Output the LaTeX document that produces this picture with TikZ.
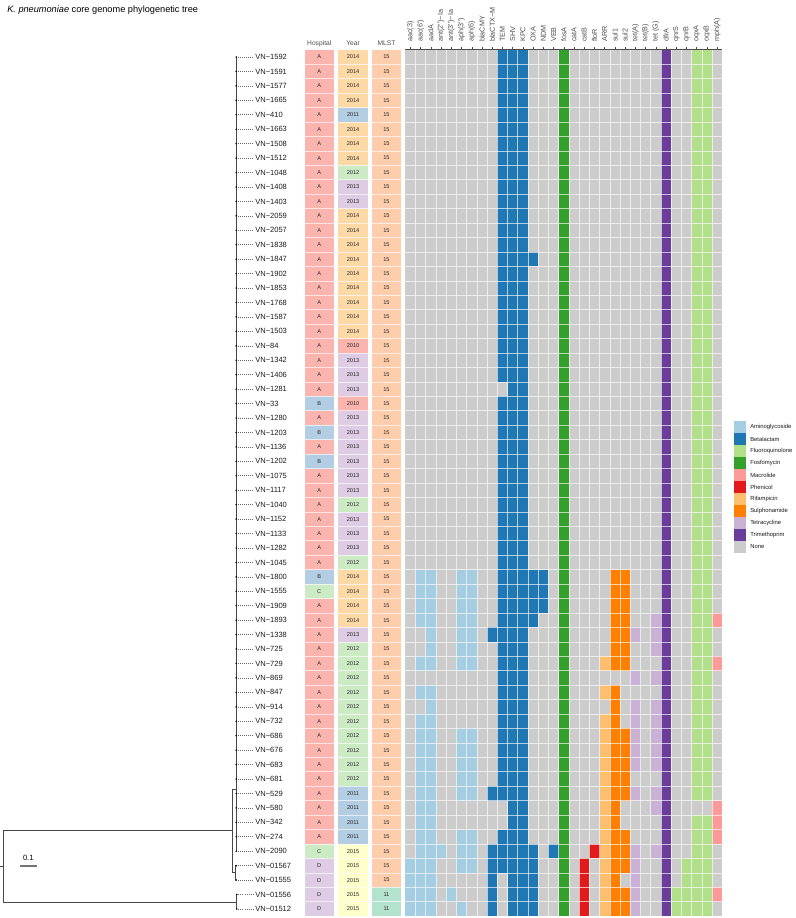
\documentclass[tikz,border=0pt]{standalone}
\usepackage{fontspec}
\setmainfont{Liberation Sans}
\newfontfamily\labfont{Liberation Sans}
% Paired palette (resistance classes)
\definecolor{amino}{HTML}{A6CEE3}
\definecolor{beta}{HTML}{1F78B4}
\definecolor{fluoro}{HTML}{B2DF8A}
\definecolor{fosfo}{HTML}{33A02C}
\definecolor{macro}{HTML}{FB9A99}
\definecolor{phen}{HTML}{E31A1C}
\definecolor{rif}{HTML}{FDBF6F}
\definecolor{sulph}{HTML}{FF7F00}
\definecolor{tetra}{HTML}{CAB2D6}
\definecolor{trim}{HTML}{6A3D9A}
\definecolor{none}{HTML}{CCCCCC}
% Pastel1 (hospital / year), Pastel2 (MLST)
\definecolor{hA}{HTML}{FBB4AE}
\definecolor{hB}{HTML}{B3CDE3}
\definecolor{hC}{HTML}{CCEBC5}
\definecolor{hD}{HTML}{DECBE4}
\definecolor{y2010}{HTML}{FBB4AE}
\definecolor{y2011}{HTML}{B3CDE3}
\definecolor{y2012}{HTML}{CCEBC5}
\definecolor{y2013}{HTML}{DECBE4}
\definecolor{y2014}{HTML}{FED9A6}
\definecolor{y2015}{HTML}{FFFFCC}
\definecolor{m15}{HTML}{FDCDAC}
\definecolor{m11}{HTML}{B3E2CD}
\definecolor{axisgray}{HTML}{4D4D4D}
% column -> class colour
\colorlet{col1}{amino}\colorlet{col2}{amino}\colorlet{col3}{amino}\colorlet{col4}{amino}
\colorlet{col5}{amino}\colorlet{col6}{amino}\colorlet{col7}{amino}
\colorlet{col8}{beta}\colorlet{col9}{beta}\colorlet{col10}{beta}\colorlet{col11}{beta}
\colorlet{col12}{beta}\colorlet{col13}{beta}\colorlet{col14}{beta}\colorlet{col15}{beta}
\colorlet{col16}{fosfo}
\colorlet{col17}{phen}\colorlet{col18}{phen}\colorlet{col19}{phen}
\colorlet{col20}{rif}
\colorlet{col21}{sulph}\colorlet{col22}{sulph}
\colorlet{col23}{tetra}\colorlet{col24}{tetra}\colorlet{col25}{tetra}
\colorlet{col26}{trim}
\colorlet{col27}{fluoro}\colorlet{col28}{fluoro}\colorlet{col29}{fluoro}\colorlet{col30}{fluoro}
\colorlet{col31}{macro}
\begin{document}
\begin{tikzpicture}[x=0.75pt,y=-0.75pt,
  treeline/.style={draw=black!72,line width=0.6pt},
  leader/.style={draw=black!60,line width=0.45pt,dash pattern=on 0.45pt off 1.1pt},
  leaflab/.style={anchor=west,inner sep=0pt,font=\fontsize{5.66}{6}\selectfont,text=black!90},
  celltext/.style={inner sep=0pt,font=\fontsize{4.2}{5}\selectfont,text=black!85},
  headlab/.style={anchor=base,inner sep=0pt,font=\fontsize{5}{6}\selectfont,text=axisgray},
  genelab/.style={rotate=90,anchor=west,inner sep=0pt,font=\labfont\fontsize{5.4}{6}\selectfont,text=axisgray},
  leglab/.style={anchor=west,inner sep=0pt,font=\fontsize{4.4}{5}\selectfont,text=black!90},
  sep/.style={draw=white,line width=0.45pt,opacity=0.65}]
\useasboundingbox (0,0) rectangle (796,918);

% title
\node[anchor=base west,inner sep=0pt,font=\fontsize{6.9}{8}\selectfont] (title) at (7,12.3)
  {\textit{K. pneumoniae} core genome phylogenetic tree};

% grid background
\fill[none] (405.3,49.78) rectangle (722.3,916.2);

% rows
\foreach \nm/\h/\yr/\m/\cl [count=\r] in {
1592/A/2014/15/{10,11,12,16,26,29,30},
1591/A/2014/15/{10,11,12,16,26,29,30},
1577/A/2014/15/{10,11,12,16,26,29,30},
1665/A/2014/15/{10,11,12,16,26,29,30},
410/A/2011/15/{10,11,12,16,26,29,30},
1663/A/2014/15/{10,11,12,16,26,29,30},
1508/A/2014/15/{10,11,12,16,26,29,30},
1512/A/2014/15/{10,11,12,16,26,29,30},
1048/A/2012/15/{10,11,12,16,26,29,30},
1408/A/2013/15/{10,11,12,16,26,29,30},
1403/A/2013/15/{10,11,12,16,26,29,30},
2059/A/2014/15/{10,11,12,16,26,29,30},
2057/A/2014/15/{10,11,12,16,26,29,30},
1838/A/2014/15/{10,11,12,16,26,29,30},
1847/A/2014/15/{10,11,12,13,16,26,29,30},
1902/A/2014/15/{10,11,12,16,26,29,30},
1853/A/2014/15/{10,11,12,16,26,29,30},
1768/A/2014/15/{10,11,12,16,26,29,30},
1587/A/2014/15/{10,11,12,16,26,29,30},
1503/A/2014/15/{10,11,12,16,26,29,30},
84/A/2010/15/{10,11,12,16,26,29,30},
1342/A/2013/15/{10,11,12,16,26,29,30},
1406/A/2013/15/{10,11,12,16,26,29,30},
1281/A/2013/15/{11,12,16,26,29,30},
33/B/2010/15/{10,11,12,16,26,29,30},
1280/A/2013/15/{10,11,12,16,26,29,30},
1203/B/2013/15/{10,11,12,16,26,29,30},
1136/A/2013/15/{10,11,12,16,26,29,30},
1202/B/2013/15/{10,11,12,16,26,29,30},
1075/A/2013/15/{10,11,12,16,26,29,30},
1117/A/2013/15/{10,11,12,16,26,29,30},
1040/A/2012/15/{10,11,12,16,26,29,30},
1152/A/2013/15/{10,11,12,16,26,29,30},
1133/A/2013/15/{10,11,12,16,26,29,30},
1282/A/2013/15/{10,11,12,16,26,29,30},
1045/A/2012/15/{10,11,12,16,26,29,30},
1800/B/2014/15/{2,3,6,7,10,11,12,13,14,16,21,22,26,29,30},
1555/C/2014/15/{2,3,6,7,10,11,12,13,14,16,21,22,26,29,30},
1909/A/2014/15/{2,3,6,7,10,11,12,13,14,16,21,22,26,29,30},
1893/A/2014/15/{2,3,6,7,10,11,12,13,16,21,22,25,26,29,30,31},
1338/A/2013/15/{3,6,7,9,10,11,12,16,21,22,23,25,26,29,30},
725/A/2012/15/{3,6,7,10,11,12,16,21,22,25,26,29,30},
729/A/2012/15/{2,3,6,7,10,11,12,16,20,21,22,26,29,30,31},
869/A/2012/15/{10,11,12,16,23,25,26,29,30},
847/A/2012/15/{2,3,10,11,12,16,20,21,26,29,30},
914/A/2012/15/{3,10,11,12,16,21,23,25,26,29,30},
732/A/2012/15/{2,3,10,11,12,16,20,21,23,25,26,29,30},
686/A/2012/15/{2,3,6,7,10,11,12,16,20,21,22,23,25,26,29,30},
676/A/2012/15/{2,3,6,7,10,11,12,16,20,21,22,23,25,26,29,30},
683/A/2012/15/{2,3,6,7,10,11,12,16,20,21,22,23,25,26,29,30},
681/A/2012/15/{2,3,6,7,10,11,12,16,20,21,22,26,29,30},
529/A/2011/15/{2,3,6,7,9,10,11,12,16,20,21,22,23,25,26,29,30},
580/A/2011/15/{2,3,11,12,16,20,21,25,26,31},
342/A/2011/15/{2,3,11,12,16,20,21,26,29,30,31},
274/A/2011/15/{2,3,6,7,10,11,12,16,20,21,22,26,29,30,31},
2090/C/2015/15/{2,3,4,6,7,9,10,11,12,13,15,16,19,20,21,22,23,25,26,29,30},
01567/D/2015/15/{1,2,3,6,7,9,10,11,12,13,16,18,20,21,22,23,26,28,29,30},
01555/D/2015/15/{1,2,3,9,11,12,13,16,18,20,21,23,26,28,29,30},
01556/D/2015/11/{1,2,3,5,9,11,12,13,16,18,20,21,22,23,26,27,28,29,30,31},
01512/D/2015/11/{1,2,3,6,9,11,12,13,16,18,20,21,22,23,26,27,28,29,30}}{
  \pgfmathsetmacro\yc{57+(\r-1)*14.44}
  \pgfmathsetmacro\yt{\yc-7.22}
  \pgfmathsetmacro\yb{\yc+7.22}
  \fill[h\h] (304.5,\yt) rectangle (334,\yb);
  \fill[y\yr] (338.3,\yt) rectangle (367.8,\yb);
  \fill[m\m] (371.7,\yt) rectangle (401.2,\yb);
  \node[celltext] (hosp\r) at (319.25,\yc) {\h};
  \node[celltext] (year\r) at (353.05,\yc) {\yr};
  \node[celltext] (mlst\r) at (386.45,\yc) {\m};
  \foreach \c in \cl {
    \fill[col\c] ({405.3+(\c-1)*10.226},\yt) rectangle ({405.3+\c*10.226},\yb);
  }
  \pgfmathsetmacro\lx{\r>58 ? 236.7 : 236.2}
  \coordinate (leaf\r) at (\lx,\yc);
  \node[leaflab] (lab\r) at (255,\yc) {VN−\nm};
  \draw[leader] ([xshift=1.2pt]leaf\r) -- ([xshift=-0.6pt]lab\r.west);
}

% separators in annotation columns and grid
\foreach \r in {1,...,59}{
  \pgfmathsetmacro\ys{49.78+\r*14.44}
  \draw[sep] (304.5,\ys) -- (334,\ys);
  \draw[sep] (338.3,\ys) -- (367.8,\ys);
  \draw[sep] (371.7,\ys) -- (401.2,\ys);
  \draw[sep] (405.3,\ys) -- (722.3,\ys);
}
\foreach \c in {1,...,30}{
  \pgfmathsetmacro\xs{405.3+\c*10.226}
  \draw[sep] (\xs,49.78) -- (\xs,916.2);
}

% top axis of the gene grid
\draw[draw=axisgray,line width=0.4pt] (405.3,49.4) -- (722.3,49.4);
\foreach \t [count=\i] in {aac(3),aac(6'),aadA,ant(2'')−Ia,ant(3'')−Ia,aph(3''),aph(6),blaCMY,blaCTX−M,TEM,SHV,KPC,OXA,NDM,VEB,fosA,catA,catB,floR,ARR,sul1,sul2,tet(A),tet(B),tet (G),dfrA,qnrS,qnrB,oqxA,oqxB,mph(A)}{
  \pgfmathsetmacro\xc{405.3+(\i-0.5)*10.226}
  \draw[draw=axisgray,line width=0.4pt] (\xc,46.8) -- (\xc,49.4);
  \node[genelab] (gene\i) at (\xc,42) {\t};
}

% annotation headers
\node[headlab] (hhosp) at (319.25,45) {Hospital};
\node[headlab] (hyear) at (353.05,45) {Year};
\node[headlab] (hmlst) at (386.45,45) {MLST};

% tree
\draw[treeline] (0,866.5) -- (3.3,866.5);
\draw[treeline] (3.3,830.7) -- (3.3,902.3);
\draw[treeline] (3.3,830.7) -- (232.3,830.7);
\draw[treeline] (3.3,902.3) -- (236.7,902.3);
\draw[treeline] (232.3,789.3) -- (232.3,872.8);
\draw[treeline] (232.3,789.3) -- (236.2,789.3);
\draw[treeline] (232.3,872.8) -- (235.1,872.8);
\draw[treeline] (235.1,865.6) -- (235.1,880.1);
\draw[treeline] (235.1,865.6) -- (leaf57);
\draw[treeline] (235.1,880.1) -- (leaf58);
\draw[treeline] (leaf1) -- (leaf56);
\draw[treeline] (leaf59) -- (leaf60);
\foreach \r in {1,...,60}{ \fill[black] (leaf\r) circle (0.9); }

% scale bar
\draw[draw=black!55,line width=1pt] (20,866) -- coordinate (sbmid) (36.7,866);
\node[anchor=base,inner sep=0pt,font=\fontsize{5.7}{6}\selectfont] (sblab) at (28.3,860.5) {0.1};

% legend
\foreach \lab/\colr [count=\i] in {Aminoglycoside/amino,Betalactam/beta,Fluoroquinolone/fluoro,Fosfomycin/fosfo,Macrolide/macro,Phenicol/phen,Rifampicin/rif,Sulphonamide/sulph,Tetracycline/tetra,Trimethoprim/trim,None/none}{
  \pgfmathsetmacro\ky{421+(\i-1)*12}
  \fill[\colr] (734,\ky) rectangle (745.7,{\ky+12});
  \node[leglab] (leg\i) at (750,{\ky+6}) {\lab};
}
\end{tikzpicture}
\end{document}
